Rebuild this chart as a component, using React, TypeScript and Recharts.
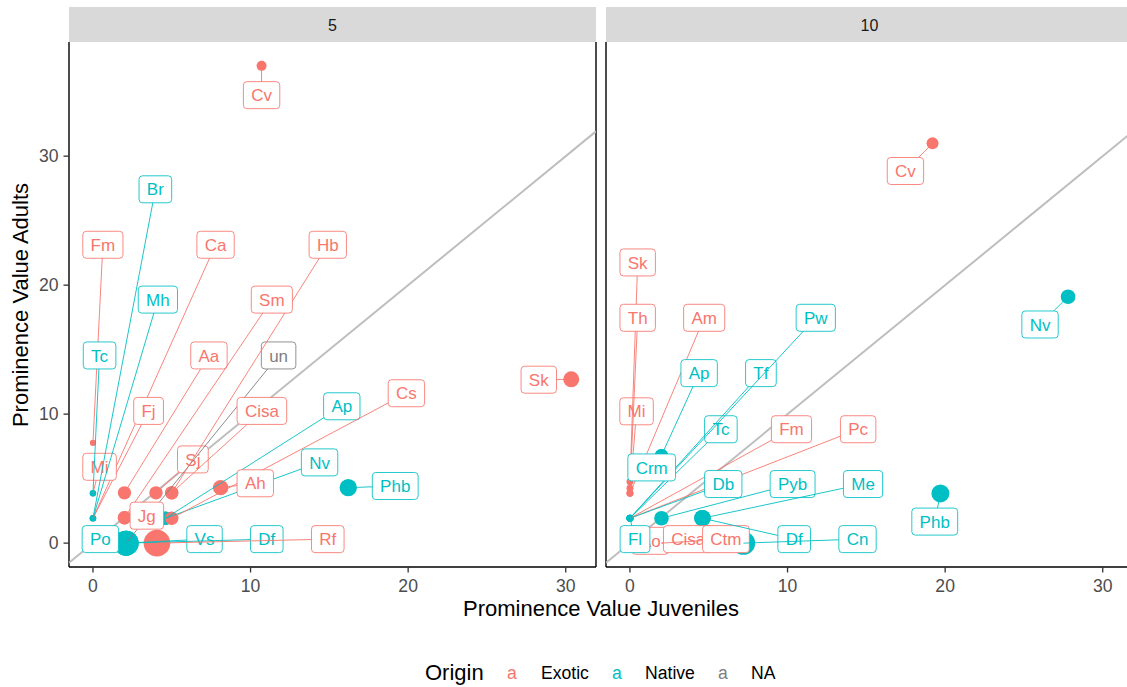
import React from 'react';
import { ScatterChart, Scatter, XAxis, YAxis, ZAxis, ReferenceLine } from 'recharts';

const FONT = '"Liberation Sans", Arial, Helvetica, sans-serif';
const ORIGIN_COLORS: Record<string, string> = { Exotic: '#F8766D', Native: '#00BFC4', NA: '#7F7F7F' };
const ORIGIN_LEVELS = ['Exotic', 'Native', 'NA'];

const X_DOMAIN: [number, number] = [-1.52, 31.92];
const Y_DOMAIN: [number, number] = [-1.85, 38.85];
const AXIS_TICKS = [0, 10, 20, 30];
const SIZE_DOMAIN: [number, number] = [0, 12];
const SIZE_RANGE: [number, number] = [0, 637];
const FACETS = ['5', '10'];

// ---- facet "5" ----
const species5 = ['Ca', 'Fj', 'Mi', 'Fm', 'Br', 'Mh', 'Tc', 'Aa', 'Sj', 'un', 'Hb', 'Cisa', 'Sm', 'Jg', 'Ap', 'Nv', 'Cs', 'Ah', 'Phb', 'Po', 'Vs', 'Df', 'Rf', 'Sk', 'Cv'];
const origin5 = ['Exotic', 'Exotic', 'Exotic', 'Exotic', 'Native', 'Native', 'Native', 'Exotic', 'Exotic', 'NA', 'Exotic', 'Exotic', 'Exotic', 'Exotic', 'Native', 'Native', 'Exotic', 'Exotic', 'Native', 'Native', 'Native', 'Native', 'Exotic', 'Exotic', 'Exotic'];
const juveniles5 = [0, 0, 0, 0, 0, 0, 0, 2, 4, 2.1, 5, 5, 2, 2, 4.6, 4.6, 5, 8.1, 16.2, 2.1, 2.1, 2.1, 4.06, 30.35, 10.7];
const adults5 = [1.93, 1.93, 3.86, 7.77, 1.93, 1.93, 3.86, 3.9, 3.9, 0, 3.9, 3.9, 1.97, 1.97, 1.93, 1.93, 1.93, 4.3, 4.3, 0, 0, 0, 0, 12.7, 37.0];
const weight5 = [0.55, 0.55, 0.55, 0.55, 0.64, 0.64, 0.64, 2.66, 2.66, 0.55, 2.66, 2.66, 2.66, 2.66, 2.66, 2.66, 2.66, 3.5, 4.48, 9.25, 9.25, 9.25, 10.5, 3.79, 1.48];
// repelled label anchors, in data units
const labelX5 = [7.78, 3.53, 0.42, 0.63, 3.96, 4.12, 0.42, 7.36, 6.34, 11.78, 14.9, 10.72, 11.35, 3.42, 15.79, 14.38, 19.89, 10.3, 19.18, 0.47, 7.08, 11.03, 14.9, 28.29, 10.7];
const labelY5 = [23.13, 10.25, 5.92, 23.13, 27.43, 18.88, 14.55, 14.55, 6.49, 14.55, 23.13, 10.25, 18.88, 2.13, 10.61, 6.26, 11.62, 4.64, 4.43, 0.31, 0.31, 0.31, 0.31, 12.67, 34.73];

// ---- facet "10" ----
const species10 = ['Fm', 'Pc', 'Ao', 'Cisa', 'Ctm', 'Mi', 'Sk', 'Th', 'Am', 'Fl', 'Tc', 'Db', 'Tf', 'Pw', 'Ap', 'Crm', 'Pyb', 'Me', 'Df', 'Cn', 'Phb', 'Nv', 'Cv'];
const origin10 = ['Exotic', 'Exotic', 'Exotic', 'Exotic', 'Exotic', 'Exotic', 'Exotic', 'Exotic', 'Exotic', 'Native', 'Native', 'Native', 'Native', 'Native', 'Native', 'Native', 'Native', 'Native', 'Native', 'Native', 'Native', 'Native', 'Exotic'];
const juveniles10 = [0, 0, 2, 2, 2, 0, 0, 0, 0, 0, 0, 0, 0, 0, 2, 2, 2, 4.6, 4.6, 7.2, 19.7, 27.8, 19.2];
const adults10 = [1.93, 1.93, 0, 0, 0, 3.86, 4.76, 4.25, 3.86, 1.93, 1.93, 1.93, 1.93, 1.93, 6.8, 6.8, 1.93, 1.93, 1.93, 0, 3.85, 19.1, 31.0];
const weight10 = [0.55, 0.55, 4.3, 4.3, 4.3, 0.72, 0.72, 0.72, 0.72, 0.72, 0.72, 0.72, 0.72, 0.72, 2.5, 2.5, 3.15, 4.08, 4.08, 8.1, 4.79, 3.15, 2.13];
const labelX10 = [10.25, 14.48, 1.29, 3.7, 6.09, 0.42, 0.49, 0.49, 4.71, 0.32, 5.77, 5.92, 8.31, 11.79, 4.39, 1.38, 10.32, 14.79, 10.42, 14.44, 19.34, 26.02, 17.48];
const labelY10 = [8.83, 8.83, 0.18, 0.31, 0.31, 10.22, 21.76, 17.47, 17.47, 0.31, 8.83, 4.58, 13.18, 17.47, 13.18, 5.87, 4.58, 4.58, 0.31, 0.31, 1.67, 16.95, 28.85];

const LABEL_FS = 17;
const LABEL_PAD = 7.8;
const LABEL_H = 27;

let measureCtx: CanvasRenderingContext2D | null = null;
function textWidth(s: string, size: number): number {
  if (!measureCtx) measureCtx = document.createElement('canvas').getContext('2d');
  if (!measureCtx) return s.length * size * 0.55;
  measureCtx.font = `${size}px "Liberation Sans"`;
  return measureCtx.measureText(s).width;
}

const Empty = () => <g />;

const Dot = (props: any) => {
  const { cx, cy, payload } = props;
  const r = props.width ? props.width / 2 : Math.sqrt((props.size || 0) / Math.PI);
  return <circle cx={cx} cy={cy} r={r} fill={ORIGIN_COLORS[payload.origin]} />;
};

const LabelShape = (props: any) => {
  const { cx, cy, payload } = props;
  if (payload.role !== 'label') return <g />;
  const w = textWidth(payload.name, LABEL_FS) + 2 * LABEL_PAD;
  return (
    <g>
      <rect x={cx - w / 2} y={cy - LABEL_H / 2} width={w} height={LABEL_H} rx={3.5} ry={3.5}
        fill="#FFFFFF" stroke={payload.color} strokeOpacity={0.85} strokeWidth={1} />
      <text x={cx} y={cy} dy="0.36em" textAnchor="middle" fill={payload.color}
        fontSize={LABEL_FS} fontFamily={FONT}>{payload.name}</text>
    </g>
  );
};

type PanelProps = {
  species: string[]; origin: string[]; juv: number[]; adult: number[]; weight: number[];
  labelX: number[]; labelY: number[]; showY: boolean; width: number; marginLeft: number;
};

const CHART_H = 607;
const axisLine = { stroke: '#000000', strokeWidth: 1.4 };
const tickLine = { stroke: '#333333', strokeWidth: 1.3 };
const tickStyle = { fill: '#4D4D4D', fontSize: 17.6, fontFamily: FONT };

function Panel(p: PanelProps) {
  const points = p.species.map((s, i) => ({ x: p.juv[i], y: p.adult[i], z: p.weight[i], origin: p.origin[i], name: s }));
  const diagonal = [{ x: X_DOMAIN[0], y: X_DOMAIN[0] }, { x: X_DOMAIN[1], y: X_DOMAIN[1] }];
  return (
    <ScatterChart width={p.width} height={CHART_H} margin={{ top: 42, right: 4, bottom: 0, left: p.marginLeft }}>
      <XAxis type="number" dataKey="x" domain={X_DOMAIN} allowDataOverflow ticks={AXIS_TICKS} interval={0}
        height={40} tickSize={5.5} tickMargin={7.5} axisLine={axisLine} tickLine={tickLine} tick={tickStyle} />
      <YAxis type="number" dataKey="y" domain={Y_DOMAIN} allowDataOverflow ticks={AXIS_TICKS} interval={0}
        width={p.showY ? 60 : 0} hide={!p.showY} tickSize={5.5} tickMargin={5} axisLine={axisLine} tickLine={tickLine} tick={tickStyle} />
      <ZAxis type="number" dataKey="z" domain={SIZE_DOMAIN} range={SIZE_RANGE} />
      <ReferenceLine x={X_DOMAIN[1]} stroke="#000000" strokeWidth={1.4} />
      {!p.showY && <ReferenceLine x={X_DOMAIN[0]} stroke="#000000" strokeWidth={1.4} />}
      <Scatter data={diagonal} line={{ stroke: '#BEBEBE', strokeWidth: 2 }} shape={Empty} isAnimationActive={false} />
      <Scatter data={points} shape={Dot} isAnimationActive={false} />
      {points.map((pt, i) => {
        const color = ORIGIN_COLORS[pt.origin];
        const seg = [
          { x: pt.x, y: pt.y, role: 'point' },
          { x: p.labelX[i], y: p.labelY[i], role: 'label', name: pt.name, color },
        ];
        return (
          <Scatter key={`${pt.name}-${i}`} data={seg} line={{ stroke: color, strokeWidth: 0.9 }}
            shape={LabelShape} isAnimationActive={false} />
        );
      })}
    </ScatterChart>
  );
}

export default function App() {
  const legendItems = [
    { key: ORIGIN_LEVELS[0], ax: 507, tx: 541 },
    { key: ORIGIN_LEVELS[1], ax: 612, tx: 645 },
    { key: ORIGIN_LEVELS[2], ax: 718, tx: 751 },
  ];
  return (
    <div style={{ position: 'absolute', left: 0, top: 0, width: 1127, height: 687, overflow: 'hidden', background: '#FFFFFF', fontFamily: FONT }}>
      <div style={{ position: 'absolute', left: 0, top: 0 }}>
        <Panel species={species5} origin={origin5} juv={juveniles5} adult={adults5} weight={weight5}
          labelX={labelX5} labelY={labelY5} showY width={600} marginLeft={9} />
      </div>
      <div style={{ position: 'absolute', left: 600, top: 0 }}>
        <Panel species={species10} origin={origin10} juv={juveniles10} adult={adults10} weight={weight10}
          labelX={labelX10} labelY={labelY10} showY={false} width={537} marginLeft={6} />
      </div>
      <svg width={1127} height={687} style={{ position: 'absolute', left: 0, top: 0, pointerEvents: 'none' }}>
        <rect x={69} y={7} width={527} height={35} fill="#D9D9D9" />
        <rect x={606} y={7} width={527} height={35} fill="#D9D9D9" />
        <text x={332.5} y={31} textAnchor="middle" fontSize={16} fill="#1A1A1A" fontFamily={FONT}>{FACETS[0]}</text>
        <text x={869.5} y={31} textAnchor="middle" fontSize={16} fill="#1A1A1A" fontFamily={FONT}>{FACETS[1]}</text>
        <text x={601} y={616} textAnchor="middle" fontSize={22} fill="#000000" fontFamily={FONT}>Prominence Value Juveniles</text>
        <text x={28} y={305} textAnchor="middle" fontSize={22} fill="#000000" fontFamily={FONT}
          transform="rotate(-90 28 305)">Prominence Value Adults</text>
        <text x={425} y={680} fontSize={22} fill="#000000" fontFamily={FONT}>Origin</text>
        {legendItems.map((it) => (
          <g key={it.key}>
            <text x={it.ax} y={679} fontSize={17.6} fill={ORIGIN_COLORS[it.key]} fontFamily={FONT}>a</text>
            <text x={it.tx} y={679} fontSize={17.6} fill="#000000" fontFamily={FONT}>{it.key}</text>
          </g>
        ))}
      </svg>
    </div>
  );
}
